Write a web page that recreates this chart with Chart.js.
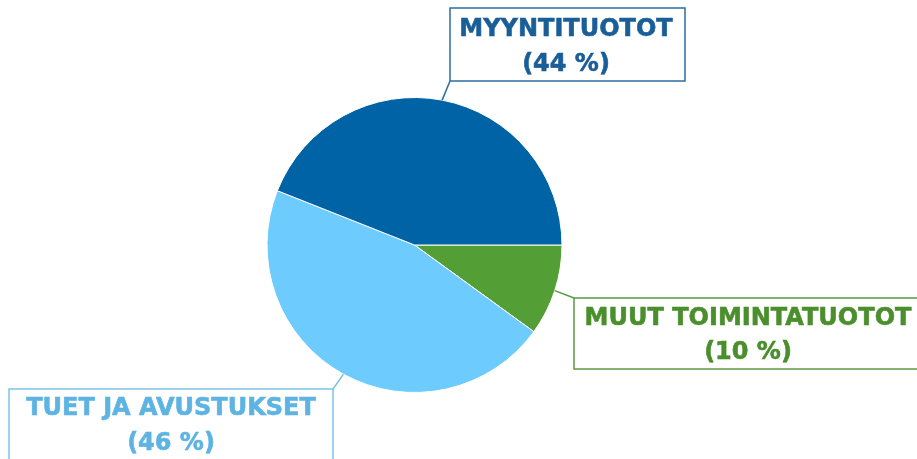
<!DOCTYPE html>
<html>
<head>
<meta charset="utf-8">
<script src="https://cdn.jsdelivr.net/npm/chart.js@4"></script>
<style>
html,body{margin:0;padding:0;background:#fff;}
#wrap{width:917px;height:459px;position:relative;}
</style>
</head>
<body>
<div id="wrap"><canvas id="c"></canvas></div>
<script>
const categories = ["MUUT TOIMINTATUOTOT", "TUET JA AVUSTUKSET", "MYYNTITUOTOT"];
const values = [10, 46, 44];
const percentLabels = ["(10 %)", "(46 %)", "(44 %)"];
const sliceColors = ["#549E36", "#6DCBFE", "#0063A6"];
const textColors = ["#4A8F2C", "#5DB4E2", "#1A5E98"];
const boxColors = ["#5A9A3F", "#7CC4E8", "#2A6CA3"];

// label box layout (pixel positions of each callout box; l1/l2 are text baselines)
const boxes = [
  {x: 574, y: 298, w: 360, h: 71, tx: 748, l1: 325, l2: 359, cx: 574, cy: 298},
  {x: 9,   y: 389, w: 324, h: 90, tx: 171, l1: 415, l2: 450, cx: 333, cy: 389},
  {x: 450, y: 8,   w: 235, h: 73, tx: 566, l1: 36,  l2: 71,  cx: 450, cy: 81}
];

const calloutPlugin = {
  id: 'callouts',
  afterDatasetsDraw(chart) {
    const ctx = chart.ctx;
    const meta = chart.getDatasetMeta(0);
    meta.data.forEach((arc, i) => {
      const b = boxes[i];
      const mid = (arc.startAngle + arc.endAngle) / 2;
      const px = arc.x + Math.cos(mid) * arc.outerRadius;
      const py = arc.y + Math.sin(mid) * arc.outerRadius;
      ctx.save();
      ctx.strokeStyle = boxColors[i];
      ctx.lineWidth = 1.5;
      ctx.beginPath();
      ctx.moveTo(px, py);
      ctx.lineTo(b.cx, b.cy);
      ctx.stroke();
      ctx.fillStyle = '#fff';
      ctx.fillRect(b.x, b.y, b.w, b.h);
      ctx.strokeRect(b.x, b.y, b.w, b.h);
      ctx.fillStyle = textColors[i];
      ctx.strokeStyle = textColors[i];
      ctx.lineWidth = 0.6;
      ctx.font = 'bold 24px "DejaVu Sans", Verdana, sans-serif';
      ctx.textAlign = 'center';
      ctx.textBaseline = 'alphabetic';
      ctx.fillText(chart.data.labels[i], b.tx, b.l1);
      ctx.strokeText(chart.data.labels[i], b.tx, b.l1);
      ctx.fillText(percentLabels[i], b.tx, b.l2);
      ctx.strokeText(percentLabels[i], b.tx, b.l2);
      ctx.restore();
    });
  }
};

new Chart(document.getElementById('c'), {
  type: 'pie',
  data: {
    labels: categories,
    datasets: [{
      data: values,
      backgroundColor: sliceColors,
      borderColor: '#ffffff',
      borderWidth: 1
    }]
  },
  options: {
    responsive: true,
    maintainAspectRatio: false,
    animation: false,
    rotation: 90,
    layout: {padding: {top: 97, bottom: 66, left: 266.5, right: 354.5}},
    plugins: {legend: {display: false}, tooltip: {enabled: false}}
  },
  plugins: [calloutPlugin]
});
</script>
</body>
</html>
